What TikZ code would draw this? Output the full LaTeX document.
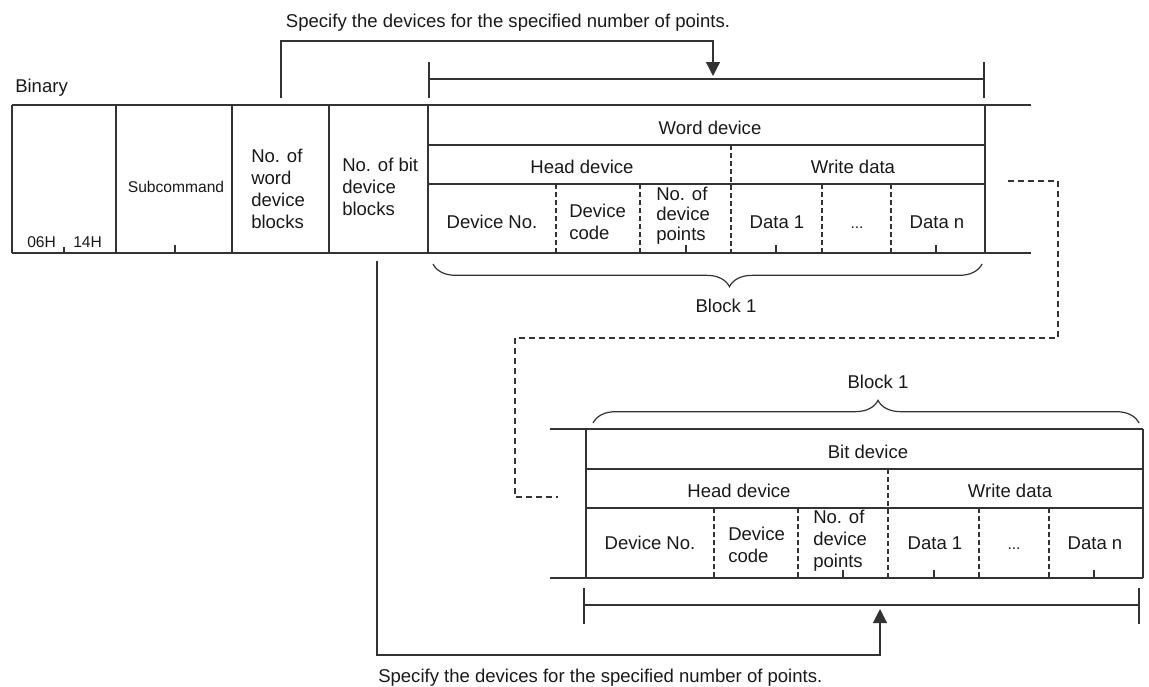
\documentclass[tikz,border=0pt]{standalone}
\usepackage{fontspec}
\setmainfont{Liberation Sans}
\usetikzlibrary{arrows.meta,decorations.pathreplacing}
\begin{document}
\begin{tikzpicture}[x=0.75pt,y=-0.75pt,
  line/.style={draw=black!80,line width=0.9pt},
  dsh/.style={line,dash pattern=on 3.5pt off 2.5pt},
  conn/.style={line,dash pattern=on 4.5pt off 3pt},
  txt/.style={inner sep=0pt,font=\fontsize{13.9}{16.5}\selectfont,text=black!90},
  tight/.style={inner sep=0pt,font=\fontsize{13.9}{14.8}\selectfont,text=black!90},
  small/.style={inner sep=0pt,font=\fontsize{11.7}{14}\selectfont,text=black!90},
  arr/.style={line,-{Triangle[length=10.5pt,width=10.5pt]}},
  brc/.style={line,decorate,decoration={brace,amplitude=17pt}},
]
\useasboundingbox (0,0) rectangle (1149,686);

% ---------- top table ----------
\draw[line] (12,105) -- (1031,105);
\draw[line] (12,253) -- (1031,253);
\foreach \x in {12,116,232,329,428,985} \draw[line] (\x,105) -- (\x,253);
\draw[line] (428,145) -- (985,145);
\draw[line] (428,184) -- (985,184);
\draw[dsh] (731,145) -- (731,253);
\foreach \x in {556,640,822,891} \draw[dsh] (\x,184) -- (\x,253);
\draw[line] (64,247) -- (64,253);
\foreach \x in {175,686,776,936} \draw[line] (\x,245) -- (\x,253);

\node[txt,anchor=base west] (binary) at (15,92) {Binary};
\node[small,anchor=base west] (h06) at (27,247) {06H};
\node[small,anchor=base west] (h14) at (73,247) {14H};
\node[small,anchor=base] (subcmd) at (176,192) {Subcommand};
\node[txt,anchor=base west,align=left] (nword) at (251,228) {No. of\\word\\device\\blocks};
\node[txt,anchor=base west,align=left] (nbit) at (342,215) {No. of bit\\device\\blocks};
\node[txt,anchor=base] (word) at (710,134) {Word device};
\node[txt,anchor=base] (head1) at (582,173) {Head device};
\node[txt,anchor=base] (write1) at (853,173) {Write data};
\node[txt,anchor=base] (devno1) at (492,228) {Device No.};
\node[txt,anchor=base west,align=left] (devcode1) at (569,239) {Device\\code};
\node[tight,anchor=base west,align=left] (npts1) at (656,240) {No. of\\device\\points};
\node[txt,anchor=base] (d1a) at (777,228) {Data 1};
\node[small,anchor=base] (dotsa) at (857,228) {...};
\node[txt,anchor=base] (dna) at (937,228) {Data n};

% bracket above word device
\coordinate (tbl) at (429,79);
\coordinate (tbr) at (984,79);
\draw[line] (429,62) -- (429,98);
\draw[line] (984,62) -- (984,98);
\draw[line] (tbl) -- (tbr);

% top arrow
\node[txt,anchor=base] (spec1) at (508,27) {Specify the devices for the specified number of points.};
\coordinate (a1s) at (281,98);
\coordinate (a1e) at (713,76);
\draw[arr] (a1s) -- (281,41) -| (a1e);

% brace under word device
\draw[brc,decoration={mirror,aspect=0.54}] (433,264) -- (982,264) coordinate (b1r);
\node[txt,anchor=base] (blk1) at (726,312) {Block 1};

% dashed continuation
\coordinate (c1) at (1008,181);
\coordinate (c2) at (558,497);
\draw[conn] (c1) -- (1058,181) -- (1058,338) -- (515,338) -- (515,497) -- (c2);

% ---------- bottom table ----------
\draw[line] (550,429) -- (1143,429);
\draw[line] (550,578) -- (1143,578);
\draw[line] (586,429) -- (586,578);
\draw[line] (1143,429) -- (1143,578);
\draw[line] (586,469) -- (1143,469);
\draw[line] (586,508) -- (1143,508);
\draw[dsh] (888,469) -- (888,578);
\foreach \x in {714,798,979,1049} \draw[dsh] (\x,508) -- (\x,578);
\foreach \x in {843,934,1094} \draw[line] (\x,570) -- (\x,578);

\draw[brc,decoration={aspect=0.522}] (593,423) -- (1139,423);
\node[txt,anchor=base] (blk2) at (878,388) {Block 1};
\node[txt,anchor=base] (bit) at (868,458) {Bit device};
\node[txt,anchor=base] (head2) at (739,497) {Head device};
\node[txt,anchor=base] (write2) at (1010,497) {Write data};
\node[txt,anchor=base] (devno2) at (650,549) {Device No.};
\node[txt,anchor=base west,align=left] (devcode2) at (728,562) {Device\\code};
\node[txt,anchor=base west,align=left] (npts2) at (813,567) {No. of\\device\\points};
\node[txt,anchor=base] (d1b) at (935,549) {Data 1};
\node[small,anchor=base] (dotsb) at (1014,549) {...};
\node[txt,anchor=base] (dnb) at (1095,549) {Data n};

% bracket below bit device
\coordinate (bbl) at (584,605);
\coordinate (bbr) at (1139,605);
\draw[line] (584,588) -- (584,624);
\draw[line] (1139,588) -- (1139,624);
\draw[line] (bbl) -- (bbr);

% bottom arrow
\coordinate (a2s) at (377,261);
\coordinate (a2e) at (880,609);
\draw[arr] (a2s) -- (377,655) -| (a2e);
\node[txt,anchor=base west] (spec2) at (378,682) {Specify the devices for the specified number of points.};
\end{tikzpicture}
\end{document}
